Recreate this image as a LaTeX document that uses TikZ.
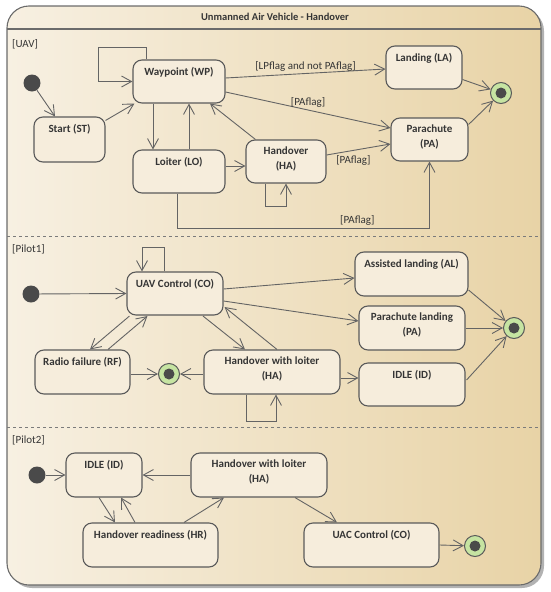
\documentclass[tikz,border=0pt]{standalone}
\usepackage{fontspec}
\setmainfont{Carlito}
\usetikzlibrary{arrows.meta,calc}
\definecolor{bgL}{HTML}{F7F0E2}
\definecolor{bgR}{HTML}{E8D3A6}
\definecolor{boxfill}{HTML}{F6EDDC}
\definecolor{edgec}{HTML}{646464}
\definecolor{boxline}{HTML}{5A5A5A}
\definecolor{txt}{HTML}{353535}
\definecolor{finfill}{HTML}{C6E4A2}
\definecolor{dotc}{HTML}{4A4A4A}
\begin{document}
\begin{tikzpicture}[x=1pt,y=-1pt,
  state/.style={draw=boxline, line width=1.1pt, fill=boxfill, rounded corners=9pt, inner sep=0pt},
  stxt/.style={anchor=north, font=\bfseries\fontsize{11}{15}\selectfont, text=txt, align=center, inner sep=0pt, yshift=-7.5pt},
  lbl/.style={font=\fontsize{11}{13}\selectfont, text=txt, inner sep=1pt},
  tr/.style={draw=edgec, line width=0.9pt, -{Straight Barb[length=10pt,width=11pt,line width=0.9pt]}},
  initst/.style={circle, fill=dotc, minimum size=17pt, inner sep=0pt},
  finst/.style={circle, draw=boxline, line width=1pt, fill=finfill, minimum size=21pt, inner sep=0pt,
    path picture={\fill[dotc] (path picture bounding box.center) circle (5.5pt);}},
  region/.style={font=\fontsize{11}{13}\selectfont, text=txt, anchor=west, inner sep=0pt}
]
\useasboundingbox (0,0) rectangle (550,592);
% frame
\fill[black!30, rounded corners=22pt] (10,9) rectangle (544,588);
\path[rounded corners=22pt, left color=bgL, right color=bgR, draw=boxline!90, line width=1.1pt] (7,6) rectangle (541,585);
\draw[boxline!90, line width=1.1pt] (7,29) -- (541,29);
\draw[boxline!80, line width=0.8pt, dashed] (7,236) -- (541,236);
\draw[boxline!80, line width=0.8pt, dashed] (7,427) -- (541,427);
\node[font=\bfseries\fontsize{10.5}{12}\selectfont, text=txt] (title) at (275,17) {Unmanned Air Vehicle - Handover};
\node[region] (ruav) at (12,44) {[UAV]};
\node[region] (rp1) at (12,249) {[Pilot1]};
\node[region] (rp2) at (12,440) {[Pilot2]};

% ---------- UAV ----------
\node[initst] (i1) at (32,83) {};
\node[state, minimum width=71pt, minimum height=45pt, label={[stxt]north:{Start (ST)}}] (st) at (69.5,139.5) {};
\node[state, minimum width=92pt, minimum height=43pt, label={[stxt]north:{Waypoint (WP)}}] (wp) at (179,81.5) {};
\node[state, minimum width=92pt, minimum height=43pt, label={[stxt]north:{Loiter (LO)}}] (lo) at (179,171.5) {};
\node[state, minimum width=80pt, minimum height=43pt, label={[stxt]north:{Handover\\(HA)}}] (ha) at (286,161.5) {};
\node[state, minimum width=76pt, minimum height=43pt, label={[stxt]north:{Landing (LA)}}] (la) at (424,67.5) {};
\node[state, minimum width=77pt, minimum height=43pt, label={[stxt]north:{Parachute\\(PA)}}] (pa) at (429.5,139.5) {};
\node[finst] (f1) at (501,93) {};

\draw[tr] (i1) -- ($(st.north)+(-14.5,0)$);
\draw[tr] ($(st.north east)+(0,4)$) -- ($(wp.south west)+(2,0)$);
\draw[tr] ($(wp.north)+(-33,0)$) -- ++(0,-12) -| ($(wp.west)+(-34,0)$) -- (wp.west);
\draw[tr] ($(wp.south)+(-26,0)$) -- ($(lo.north)+(-26,0)$);
\draw[tr] ($(lo.north)+(10,0)$) -- ($(wp.south)+(10,0)$);
\draw[tr] ($(lo.east)+(0,-5.5)$) -- ($(ha.west)+(0,4.5)$);
\draw[tr] ($(ha.north west)+(10,0)$) -- ($(wp.south)+(31,0)$);
\draw[tr] ($(ha.south)+(-21,0)$) -- ++(0,23) -| (ha.south);
\draw[tr] ($(wp.east)+(0,-3.5)$) -- ($(la.west)+(0,1.5)$) node[lbl, pos=0.5, above=1pt] (l1) {[LPflag and not PAflag]};
\draw[tr] ($(wp.east)+(0,10.5)$) -- ($(pa.west)+(0,-11.5)$) node[lbl, pos=0.5, above=1pt] (l2) {[PAflag]};
\draw[tr] ($(ha.east)+(0,-6.5)$) -- ($(pa.west)+(0,4.5)$) node[lbl, pos=0.42, below=4pt] (l3) {[PAflag]};
\draw[tr] ($(lo.south)+(-2,0)$) -- ++(0,35) -| (pa.south) node[lbl, pos=0.357, above=2pt] (l4) {[PAflag]};
\draw[tr] ($(la.east)+(0,12)$) -- (f1);
\draw[tr] ($(pa.east)+(0,-15)$) -- (f1);

% ---------- Pilot1 ----------
\node[initst] (i2) at (31,294) {};
\node[state, minimum width=96pt, minimum height=43pt, label={[stxt]north:{UAV Control (CO)}}] (co) at (175,293.5) {};
\node[state, minimum width=95pt, minimum height=44pt, label={[stxt]north:{Radio failure (RF)}}] (rf) at (82.5,372) {};
\node[state, minimum width=136pt, minimum height=44pt, label={[stxt]north:{Handover with loiter\\(HA)}}] (hb) at (272,372) {};
\node[state, minimum width=113pt, minimum height=44pt, label={[stxt]north:{Assisted landing (AL)}}] (al) at (411.5,274) {};
\node[state, minimum width=106pt, minimum height=44pt, label={[stxt]north:{Parachute landing\\(PA)}}] (pb) at (412,328) {};
\node[state, minimum width=106pt, minimum height=43pt, label={[stxt]north:{IDLE (ID)}}] (id) at (412,384.5) {};
\node[finst] (f2) at (169,374) {};
\node[finst] (f3) at (514,328) {};

\draw[tr] (i2) -- (co.west);
\draw[tr] ($(co.north)+(-11,0)$) -- ++(0,-24) -| ($(co.north)+(-33,0)$);
\draw[tr] ($(co.east)+(0,-4.5)$) -- ($(al.west)+(0,4)$);
\draw[tr] ($(co.east)+(0,7.5)$) -- ($(pb.west)+(0,-7)$);
\draw[tr] ($(co.south west)+(3,0.5)$) -- ($(rf.north)+(7.5,0)$);
\draw[tr] ($(rf.north)+(25.5,0)$) -- ($(co.south west)+(21,0.5)$);
\draw[tr] ($(co.south)+(28,0.5)$) -- ($(hb.north)+(-27,0)$);
\draw[tr] ($(hb.north)+(5,0)$) -- ($(co.east)+(1,13.5)$);
\draw[tr] ($(rf.east)+(0,2)$) -- (f2);
\draw[tr] ($(hb.west)+(0,2)$) -- (f2);
\draw[tr] ($(hb.south)+(-26,0)$) -- ++(0,27) -| ($(hb.south)+(4,0)$);
\draw[tr] ($(hb.east)+(0,6)$) -- ($(id.west)+(0,-6.5)$);
\draw[tr] ($(al.east)+(0,16)$) -- (f3);
\draw[tr] (pb.east) -- (f3);
\draw[tr] ($(id.east)+(1,-4.5)$) -- (f3);

% ---------- Pilot2 ----------
\node[initst] (i3) at (37,475) {};
\node[state, minimum width=76pt, minimum height=44pt, label={[stxt]north:{IDLE (ID)}}] (ic) at (104,475) {};
\node[state, minimum width=136pt, minimum height=44pt, label={[stxt]north:{Handover with loiter\\(HA)}}] (hc) at (259,475) {};
\node[state, minimum width=135pt, minimum height=44pt, label={[stxt]north:{Handover readiness (HR)}}] (hr) at (150.5,545) {};
\node[state, minimum width=135pt, minimum height=44pt, label={[stxt]north:{UAC Control (CO)}}] (cc) at (371.5,545) {};
\node[finst] (f4) at (475,546) {};

\draw[tr] (i3) -- (ic.west);
\draw[tr] (hc.west) -- (ic.east);
\draw[tr] ($(ic.south)+(-5,0)$) -- ($(hr.north)+(-35.5,0)$);
\draw[tr] ($(hr.north)+(-15.5,0)$) -- ($(ic.south)+(17,0)$);
\draw[tr] ($(hr.north)+(33.5,0)$) -- ($(hc.south)+(-35,0)$);
\draw[tr] ($(hc.south)+(36,0)$) -- ($(cc.north)+(-34.5,0)$);
\draw[tr] (cc.east) -- (f4);
\end{tikzpicture}
\end{document}
